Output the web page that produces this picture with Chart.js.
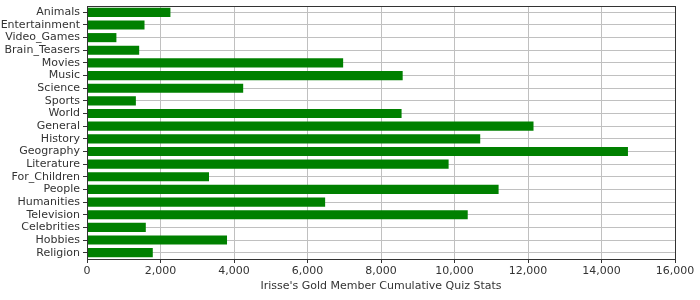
<!DOCTYPE html>
<html>
<head>
<meta charset="utf-8">
<script src="https://cdn.jsdelivr.net/npm/chart.js@4/dist/chart.umd.min.js"></script>
<style>
  html, body { margin: 0; padding: 0; background: #fff; }
  #wrap { width: 700px; height: 300px; }
</style>
</head>
<body>
<div id="wrap"><canvas id="quiz-chart" width="700" height="300"></canvas></div>
<script>
const categories = ['Animals', 'Entertainment', 'Video_Games', 'Brain_Teasers', 'Movies', 'Music',
  'Science', 'Sports', 'World', 'General', 'History', 'Geography', 'Literature', 'For_Children',
  'People', 'Humanities', 'Television', 'Celebrities', 'Hobbies', 'Religion'];
const quizCounts = [2270, 1565, 800, 1420, 6970, 8590, 4250, 1330, 8560, 12150,
  10700, 14720, 9840, 3320, 11200, 6480, 10360, 1600, 3810, 1790];
const xTicks = [0, 2000, 4000, 6000, 8000, 10000, 12000, 14000, 16000];
const axisTitle = "Irisse's Gold Member Cumulative Quiz Stats";

const font = { family: '"DejaVu Sans", sans-serif', size: 11 };
const textColor = '#333333';
const gridColor = '#c0c0c0';

// draws the dark frame round the plot area
const framePlugin = {
  id: 'frame',
  afterDraw(chart) {
    const { ctx, chartArea } = chart;
    ctx.save();
    ctx.strokeStyle = '#333333';
    ctx.lineWidth = 1;
    ctx.strokeRect(chartArea.left + 0.5, chartArea.top + 0.5,
      chartArea.right - chartArea.left, chartArea.bottom - chartArea.top);
    ctx.restore();
  }
};

new Chart(document.getElementById('quiz-chart').getContext('2d'), {
  type: 'bar',
  data: {
    labels: categories,
    datasets: [{
      data: quizCounts,
      backgroundColor: '#008000',
      borderWidth: 0,
      barPercentage: 0.72,
      categoryPercentage: 1.0
    }]
  },
  options: {
    indexAxis: 'y',
    responsive: false,
    animation: false,
    layout: { padding: { top: 6, right: 25, left: 0, bottom: 7 } },
    plugins: { legend: { display: false }, tooltip: { enabled: false } },
    scales: {
      x: {
        min: 0,
        max: 16000,
        afterBuildTicks: scale => { scale.ticks = xTicks.map(v => ({ value: v })); },
        afterFit: scale => { scale.height = 34; },
        ticks: {
          font: font,
          color: textColor,
          padding: 2,
          maxRotation: 0,
          callback: v => v.toLocaleString('en-US')
        },
        grid: { color: gridColor, lineWidth: 1, tickLength: 4, tickColor: '#333333' },
        border: { display: false },
        title: { display: true, text: axisTitle, font: font, color: textColor, padding: { top: 1, bottom: 0 } }
      },
      y: {
        afterFit: scale => {
          scale.width = 87;
          scale.paddingTop = 0;
          scale.paddingBottom = 0;
        },
        ticks: { font: font, color: textColor, padding: 3, autoSkip: false },
        grid: { color: gridColor, lineWidth: 1, offset: false, tickLength: 4, tickColor: '#333333' },
        border: { display: false }
      }
    }
  },
  plugins: [framePlugin]
});
</script>
</body>
</html>
